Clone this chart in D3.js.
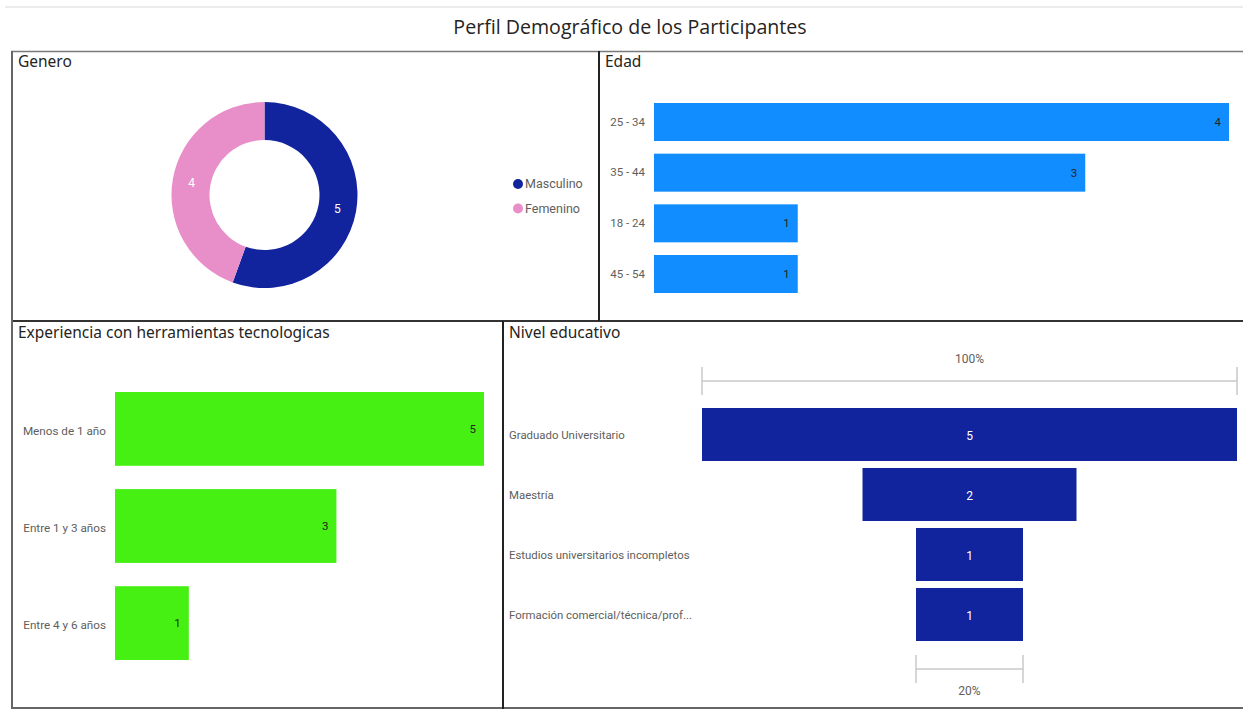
<!DOCTYPE html>
<html>
<head>
<meta charset="utf-8">
<script src="https://cdn.jsdelivr.net/npm/d3@7"></script>
<style>
  html, body { margin: 0; padding: 0; background: #fff; }
  svg { display: block; }
</style>
</head>
<body>
<svg id="chart" width="1243" height="709"></svg>
<script>
// Género
const generoCats = ["Masculino", "Femenino"];
const generoVals = [5, 4];

// Edad
const edadCats = ["25 - 34", "35 - 44", "18 - 24", "45 - 54"];
const edadVals = [4, 3, 1, 1];

// Experiencia con herramientas tecnológicas
const expCats = ["Menos de 1 año", "Entre 1 y 3 años", "Entre 4 y 6 años"];
const expVals = [5, 3, 1];

// Nivel educativo (embudo)
const eduCats = ["Graduado Universitario", "Maestría", "Estudios universitarios incompletos", "Formación comercial/técnica/prof..."];
const eduVals = [5, 2, 1, 1];
const eduTopLabel = "100%";
const eduBottomLabel = "20%";

const svg = d3.select("#chart");
const titleFont = "'Open Sans', 'Noto Sans', sans-serif";
const headFont = "'Noto Sans', Roboto, sans-serif";
const labelFont = "Roboto, 'Noto Sans', sans-serif";
const gray = "#605E5C";
const dark = "#252423";

// Top faint rule
svg.append("line").attr("x1", 5).attr("x2", 1243).attr("y1", 7).attr("y2", 7)
  .attr("stroke", "#ececec").attr("stroke-width", 2);

// Main title
svg.append("text").attr("x", 630).attr("y", 34).attr("text-anchor", "middle")
  .attr("font-family", titleFont).attr("font-size", 19.6).attr("fill", dark)
  .text("Perfil Demográfico de los Participantes");

// Panel frame lines
const frame = svg.append("g").attr("fill", "none");
frame.append("line").attr("x1", 11).attr("x2", 1243).attr("y1", 51.5).attr("y2", 51.5).attr("stroke", "#7a7a7a").attr("stroke-width", 1.5);
frame.append("line").attr("x1", 11).attr("x2", 1243).attr("y1", 321).attr("y2", 321).attr("stroke", "#333").attr("stroke-width", 2);
frame.append("line").attr("x1", 11).attr("x2", 1243).attr("y1", 708).attr("y2", 708).attr("stroke", "#666").attr("stroke-width", 2);
frame.append("line").attr("x1", 12).attr("x2", 12).attr("y1", 51).attr("y2", 709).attr("stroke", "#666").attr("stroke-width", 2);
frame.append("line").attr("x1", 599).attr("x2", 599).attr("y1", 51).attr("y2", 321).attr("stroke", "#222").attr("stroke-width", 2);
frame.append("line").attr("x1", 503).attr("x2", 503).attr("y1", 321).attr("y2", 709).attr("stroke", "#222").attr("stroke-width", 2);

// Panel headings
const heads = [
  ["Genero", 18, 66.5], ["Edad", 605, 66.5],
  ["Experiencia con herramientas tecnologicas", 18, 337.5], ["Nivel educativo", 509, 337.5]
];
svg.selectAll("text.head").data(heads).join("text").attr("class", "head")
  .attr("x", d => d[1]).attr("y", d => d[2])
  .attr("font-family", headFont).attr("font-size", 15.5).attr("fill", dark)
  .text(d => d[0]);

// ---------- Donut: Genero ----------
const donutColor = d3.scaleOrdinal().domain(generoCats).range(["#12239E", "#E88FC9"]);
const pie = d3.pie().sort(null).value(d => d.v);
const arcs = pie(generoCats.map((c, i) => ({ c, v: generoVals[i] })));
const arc = d3.arc().innerRadius(55).outerRadius(93);
const donut = svg.append("g").attr("transform", "translate(264.5,195)");
donut.selectAll("path").data(arcs).join("path")
  .attr("d", arc).attr("fill", d => donutColor(d.data.c));
donut.selectAll("text").data(arcs).join("text")
  .attr("x", d => arc.centroid(d)[0]).attr("y", d => arc.centroid(d)[1] + 1)
  .attr("text-anchor", "middle").attr("dy", "0.35em")
  .attr("font-family", labelFont).attr("font-size", 12).attr("fill", "#fff")
  .text(d => d.data.v);

const legend = svg.append("g");
legend.selectAll("g").data(generoCats).join("g")
  .attr("transform", (d, i) => `translate(518,${184 + i * 24.5})`)
  .each(function (d) {
    const g = d3.select(this);
    g.append("circle").attr("r", 5).attr("fill", donutColor(d));
    g.append("text").attr("x", 7).attr("dy", "0.35em")
      .attr("font-family", labelFont).attr("font-size", 12.5).attr("fill", gray).text(d);
  });

// ---------- Bars: Edad ----------
const xEdad = d3.scaleLinear().domain([0, 4]).range([654, 1229]);
const yEdad = d3.scaleBand().domain(edadCats).range([103, 293]).paddingInner(0.25).paddingOuter(0);
const edad = svg.append("g");
edad.selectAll("rect").data(edadCats).join("rect")
  .attr("x", xEdad(0)).attr("y", d => yEdad(d))
  .attr("width", (d, i) => xEdad(edadVals[i]) - xEdad(0)).attr("height", yEdad.bandwidth())
  .attr("fill", "#118DFF");
edad.selectAll("text.val").data(edadCats).join("text").attr("class", "val")
  .attr("x", (d, i) => xEdad(edadVals[i]) - 8).attr("y", d => yEdad(d) + yEdad.bandwidth() / 2)
  .attr("dy", "0.35em").attr("text-anchor", "end")
  .attr("font-family", labelFont).attr("font-size", 11.5).attr("fill", dark)
  .text((d, i) => edadVals[i]);
const edadAxis = svg.append("g").attr("transform", `translate(${xEdad(0) - 9},0)`)
  .call(d3.axisLeft(yEdad).tickSize(0).tickPadding(0));
edadAxis.select(".domain").remove();
edadAxis.selectAll("text").attr("font-family", labelFont).attr("font-size", 11.5).attr("fill", gray);

// ---------- Bars: Experiencia ----------
const xExp = d3.scaleLinear().domain([0, 5]).range([115, 484]);
const yExp = d3.scaleBand().domain(expCats).range([392, 660]).paddingInner(0.24).paddingOuter(0);
const exp = svg.append("g");
exp.selectAll("rect").data(expCats).join("rect")
  .attr("x", xExp(0)).attr("y", d => yExp(d))
  .attr("width", (d, i) => xExp(expVals[i]) - xExp(0)).attr("height", yExp.bandwidth())
  .attr("fill", "#45F012");
exp.selectAll("text.val").data(expCats).join("text").attr("class", "val")
  .attr("x", (d, i) => xExp(expVals[i]) - 8).attr("y", d => yExp(d) + yExp.bandwidth() / 2)
  .attr("dy", "0.35em").attr("text-anchor", "end")
  .attr("font-family", labelFont).attr("font-size", 11.5).attr("fill", dark)
  .text((d, i) => expVals[i]);
const expAxis = svg.append("g").attr("transform", `translate(${xExp(0) - 9},2.5)`)
  .call(d3.axisLeft(yExp).tickSize(0).tickPadding(0));
expAxis.select(".domain").remove();
expAxis.selectAll("text").attr("font-family", labelFont).attr("font-size", 11.7).attr("fill", gray);

// ---------- Funnel: Nivel educativo ----------
const funnelCenter = 969.5;
const wEdu = d3.scaleLinear().domain([0, 5]).range([0, 535]);
const yEdu = d3.scaleBand().domain(eduCats).range([408, 641]).paddingInner(0.117).paddingOuter(0);
const edu = svg.append("g");
edu.selectAll("rect").data(eduCats).join("rect")
  .attr("x", (d, i) => funnelCenter - wEdu(eduVals[i]) / 2).attr("y", d => yEdu(d))
  .attr("width", (d, i) => wEdu(eduVals[i])).attr("height", yEdu.bandwidth())
  .attr("fill", "#12239E");
edu.selectAll("text.val").data(eduCats).join("text").attr("class", "val")
  .attr("x", funnelCenter).attr("y", d => yEdu(d) + yEdu.bandwidth() / 2 + 1)
  .attr("dy", "0.35em").attr("text-anchor", "middle")
  .attr("font-family", labelFont).attr("font-size", 12).attr("fill", "#fff")
  .text((d, i) => eduVals[i]);
edu.selectAll("text.cat").data(eduCats).join("text").attr("class", "cat")
  .attr("x", 509).attr("y", d => yEdu(d) + yEdu.bandwidth() / 2 + 0.5)
  .attr("dy", "0.35em")
  .attr("font-family", labelFont).attr("font-size", 11.4).attr("fill", gray)
  .text(d => d);

// Conversion brackets (first and last stage)
function bracket(val, yLine, label, yLabel) {
  const w = wEdu(val);
  const x0 = funnelCenter - w / 2, x1 = funnelCenter + w / 2;
  const g = svg.append("g").attr("stroke", "#c8c8c8").attr("stroke-width", 1.5);
  g.append("line").attr("x1", x0).attr("x2", x1).attr("y1", yLine).attr("y2", yLine);
  g.append("line").attr("x1", x0).attr("x2", x0).attr("y1", yLine - 14).attr("y2", yLine + 14);
  g.append("line").attr("x1", x1).attr("x2", x1).attr("y1", yLine - 14).attr("y2", yLine + 14);
  svg.append("text").attr("x", funnelCenter).attr("y", yLabel).attr("dy", "0.35em")
    .attr("text-anchor", "middle").attr("font-family", labelFont).attr("font-size", 12)
    .attr("fill", gray).text(label);
}
bracket(eduVals[0], 381, eduTopLabel, 359);
bracket(eduVals[eduVals.length - 1], 669, eduBottomLabel, 691);
</script>
</body>
</html>
